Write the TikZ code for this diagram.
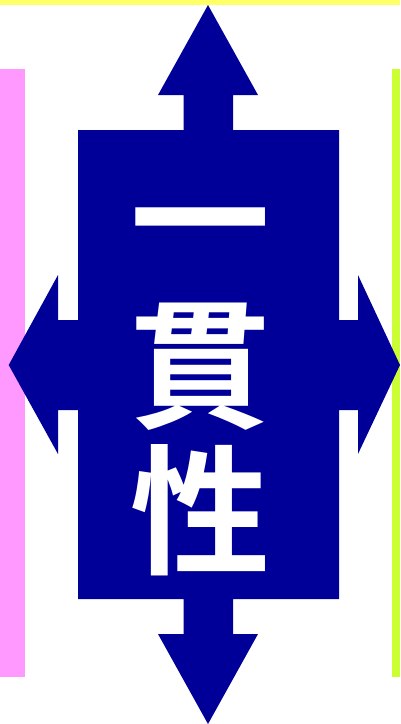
\documentclass[tikz,border=0pt]{standalone}
\usepackage{fontspec}
\newfontfamily\jp{Noto Sans CJK JP Bold}
\definecolor{topyellow}{HTML}{FFFF66}
\definecolor{lpink}{HTML}{FF99FF}
\definecolor{rgreen}{HTML}{CCFF33}
\definecolor{navy}{HTML}{000099}
\begin{document}
\begin{tikzpicture}[x=1pt,y=-1pt,
  bar/.style={draw=none},
  label/.style={text=white,font=\jp\fontsize{140}{146}\selectfont,align=center,inner sep=0pt}]
\useasboundingbox (0,0) rectangle (400,724);
\fill[white] (0,0) rectangle (400,724);
\fill[topyellow] (0,0) rectangle (400,5);
\fill[lpink] (0,69) rectangle (25,677);
\fill[rgreen] (392,69) rectangle (400,677);
\fill[navy] (208,5) -- (258,95) -- (233,95) -- (233,130) -- (339,130)
  -- (339,320) -- (358,320) -- (358,275) -- (400,365) -- (358,454) -- (358,410) -- (339,410)
  -- (339,599) -- (233,599) -- (233,634) -- (258,634) -- (208,724) -- (158,634) -- (183.5,634) -- (183.5,599)
  -- (78,599) -- (78,410) -- (58,410) -- (58,454) -- (8.7,365) -- (58,275) -- (58,320) -- (78,320)
  -- (78,130) -- (183.5,130) -- (183.5,95) -- (158,95) -- cycle;
\node[label] (txt) at (200,392) {一\\貫\\性};
\end{tikzpicture}
\end{document}
